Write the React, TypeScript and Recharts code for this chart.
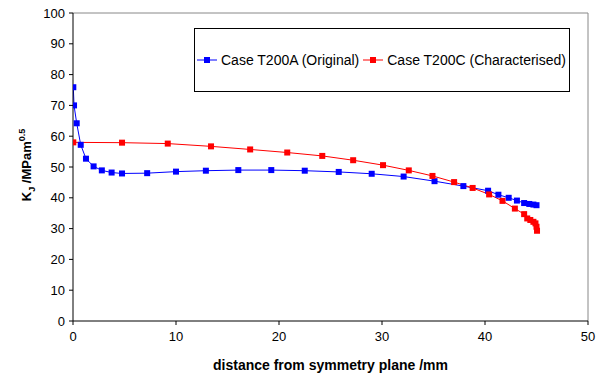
import React from "react";
import {
  LineChart,
  Line,
  XAxis,
  YAxis,
  ReferenceLine,
} from "recharts";

const blueX = [0.03, 0.1, 0.36, 0.75, 1.26, 2.0, 2.8, 3.75, 4.76, 7.2, 10.0, 12.9, 16.05, 19.25, 22.5, 25.8, 29.0, 32.1, 35.1, 37.9, 40.3, 41.3, 42.3, 43.1, 43.8, 44.3, 44.7, 45.0];
const blueY = [75.9, 70.0, 64.2, 57.2, 52.7, 50.2, 48.9, 48.2, 47.9, 48.0, 48.5, 48.8, 49.0, 49.0, 48.8, 48.4, 47.8, 46.9, 45.4, 43.8, 42.3, 41.0, 40.0, 39.1, 38.3, 38.0, 37.8, 37.6];

const redX = [0.03, 4.76, 9.2, 13.4, 17.2, 20.8, 24.2, 27.2, 30.1, 32.6, 34.9, 37.0, 38.8, 40.4, 41.7, 42.9, 43.8, 44.1, 44.4, 44.7, 44.9, 45.0, 45.05];
const redY = [58.0, 57.9, 57.6, 56.7, 55.7, 54.7, 53.6, 52.2, 50.6, 48.9, 47.1, 45.1, 43.2, 41.1, 39.0, 36.5, 34.7, 33.3, 32.8, 32.2, 31.7, 30.6, 29.3];

const xTicks = [0, 10, 20, 30, 40, 50];
const yTicks = [0, 10, 20, 30, 40, 50, 60, 70, 80, 90, 100];

const seriesNames = ["Case T200A (Original)", "Case T200C (Characterised)"];
const seriesColors = ["#0000FF", "#FF0000"];

const blueData = blueX.map((x, i) => ({ x, y: blueY[i] }));
const redData = redX.map((x, i) => ({ x, y: redY[i] }));

const FONT = "'Liberation Sans', Arial, sans-serif";

const makeDot = (color: string) => (props: any) => {
  const { cx, cy, key } = props;
  if (cx == null || cy == null) return <g key={key} />;
  return <rect key={key} x={cx - 3} y={cy - 3} width={6} height={6} fill={color} stroke="none" />;
};

const LegendBox = () => (
  <div
    style={{
      position: "absolute",
      left: 194,
      top: 28,
      width: 372,
      height: 62,
      border: "1px solid #000",
      background: "#fff",
      display: "flex",
      alignItems: "center",
      fontFamily: FONT,
      fontSize: 14,
      color: "#000",
      boxSizing: "content-box",
      paddingLeft: 2,
      whiteSpace: "nowrap",
    }}
  >
    {seriesNames.map((n, i) => (
      <div key={n} style={{ display: "flex", alignItems: "center", marginRight: 4 }}>
        <svg width={20} height={8} style={{ marginRight: 4 }}>
          <line x1={0} y1={4} x2={20} y2={4} stroke={seriesColors[i]} strokeWidth={1} />
          <rect x={7} y={1} width={6} height={6} fill={seriesColors[i]} />
        </svg>
        <span>{n}</span>
      </div>
    ))}
  </div>
);

const YLabel = () => (
  <text
    transform="translate(31,165) rotate(-90)"
    textAnchor="middle"
    fontFamily={FONT}
    fontWeight="bold"
    fontSize={13}
    fill="#000"
  >
    <tspan>K</tspan>
    <tspan fontSize={9} dy={4}>J</tspan>
    <tspan dy={-4}> /MPam</tspan>
    <tspan fontSize={9} dy={-6}>0.5</tspan>
  </text>
);

export default function App() {
  return (
    <div style={{ position: "absolute", left: 0, top: 0, width: 606, height: 374, background: "#fff" }}>
      <LineChart
        width={606}
        height={374}
        margin={{ top: 13, right: 18, bottom: 0, left: 0 }}
      >
        <XAxis
          type="number"
          dataKey="x"
          domain={[0, 50]}
          ticks={xTicks}
          allowDataOverflow
          height={53}
          stroke="#000"
          tickSize={4}
          tickMargin={7}
          tick={{ fontFamily: FONT, fontSize: 13, fill: "#000" }}
          label={{
            value: "distance from symmetry plane /mm",
            position: "insideBottom",
            offset: 4,
            style: { fontFamily: FONT, fontWeight: "bold", fontSize: 14, fill: "#000" },
          }}
        />
        <YAxis
          type="number"
          dataKey="y"
          domain={[0, 100]}
          ticks={yTicks}
          width={73}
          stroke="#000"
          tickSize={4}
          tickMargin={4}
          tick={{ fontFamily: FONT, fontSize: 13, fill: "#000" }}
          label={<YLabel />}
        />
        <ReferenceLine y={100} stroke="#888" strokeWidth={1} />
        <ReferenceLine x={50} stroke="#888" strokeWidth={1} />
        <Line
          data={blueData}
          dataKey="y"
          name={seriesNames[0]}
          type="linear"
          stroke={seriesColors[0]}
          strokeWidth={1}
          dot={makeDot(seriesColors[0])}
          activeDot={false}
          isAnimationActive={false}
        />
        <Line
          data={redData}
          dataKey="y"
          name={seriesNames[1]}
          type="linear"
          stroke={seriesColors[1]}
          strokeWidth={1}
          dot={makeDot(seriesColors[1])}
          activeDot={false}
          isAnimationActive={false}
        />
      </LineChart>
      <LegendBox />
    </div>
  );
}
